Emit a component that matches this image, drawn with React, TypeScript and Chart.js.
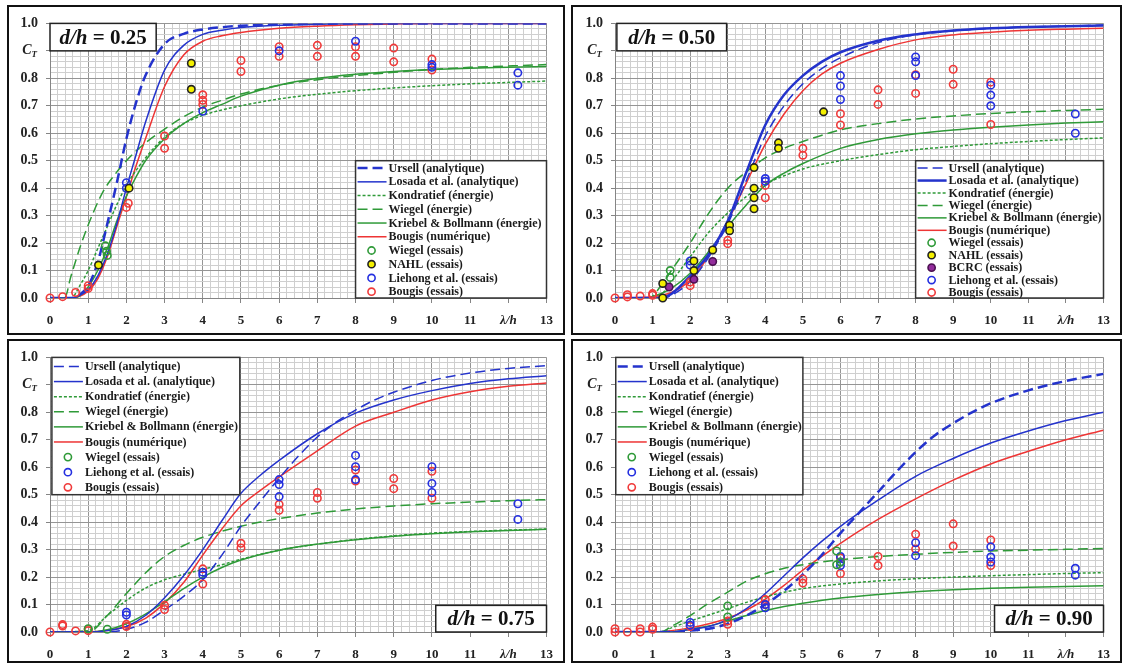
import React, { useEffect, useRef } from 'react';
import { Chart, registerables } from 'chart.js';

Chart.register(...registerables);

type Pt = [number, number];

// ---------------- Panel 1 : d/h = 0.25 ----------------
const P1_URSELL: Pt[] = [[0, 0], [0.6, 0], [0.8, 0.015], [1, 0.045], [1.25, 0.13], [1.5, 0.27], [1.75, 0.42], [2, 0.58], [2.25, 0.71], [2.5, 0.81], [3, 0.925], [3.5, 0.962], [4, 0.978], [4.5, 0.986], [5, 0.991], [6, 0.996], [7, 0.998], [8, 1], [13, 1]];
const P1_LOSADA: Pt[] = [[0, 0], [0.6, 0], [0.75, 0.008], [1, 0.03], [1.25, 0.08], [1.5, 0.16], [1.75, 0.27], [2, 0.4], [2.25, 0.52], [2.5, 0.64], [3, 0.83], [3.5, 0.92], [4, 0.96], [4.5, 0.975], [5, 0.985], [6, 0.993], [7, 0.997], [8, 1], [13, 1]];
const P1_KONDRATIEF: Pt[] = [[0, 0], [0.55, 0], [0.8, 0.05], [1, 0.1], [1.25, 0.18], [1.5, 0.26], [1.75, 0.34], [2, 0.41], [2.5, 0.51], [3, 0.585], [3.5, 0.635], [4, 0.665], [4.5, 0.685], [5, 0.7], [6, 0.725], [7, 0.742], [8, 0.755], [9, 0.765], [10, 0.773], [11, 0.78], [12, 0.785], [13, 0.79]];
const P1_WIEGEL: Pt[] = [[0, 0], [0.38, 0], [0.55, 0.08], [0.8, 0.19], [1.1, 0.3], [1.4, 0.39], [1.7, 0.45], [2, 0.5], [2.5, 0.565], [3, 0.615], [3.5, 0.66], [4, 0.695], [4.5, 0.72], [5, 0.743], [6, 0.775], [7, 0.795], [8, 0.81], [9, 0.822], [10, 0.832], [11, 0.84], [12, 0.845], [13, 0.85]];
const P1_KRIEBEL: Pt[] = [[0, 0], [0.6, 0], [0.8, 0.01], [1, 0.04], [1.25, 0.1], [1.5, 0.18], [1.75, 0.28], [2, 0.37], [2.25, 0.44], [2.5, 0.5], [3, 0.58], [3.5, 0.635], [4, 0.675], [4.5, 0.705], [5, 0.735], [6, 0.775], [7, 0.8], [8, 0.815], [9, 0.825], [10, 0.832], [11, 0.837], [12, 0.84], [13, 0.843]];
const P1_BOUGIS: Pt[] = [[0, 0], [0.6, 0], [0.75, 0.005], [1, 0.025], [1.25, 0.07], [1.5, 0.15], [1.75, 0.26], [2, 0.37], [2.25, 0.48], [2.5, 0.58], [3, 0.77], [3.5, 0.885], [4, 0.935], [4.5, 0.955], [5, 0.967], [6, 0.982], [7, 0.99], [8, 0.995], [9, 0.998], [10, 1], [13, 1]];
const P1_WIEGEL_X = [1.45, 1.48, 1.5];
const P1_WIEGEL_Y = [0.19, 0.17, 0.155];
const P1_NAHL_X = [1.27, 2.07, 3.7, 3.7];
const P1_NAHL_Y = [0.12, 0.4, 0.855, 0.76];
const P1_LIEHONG_X = [2, 2, 4, 6, 8, 10, 10, 12.25, 12.25];
const P1_LIEHONG_Y = [0.42, 0.4, 0.68, 0.9, 0.935, 0.85, 0.84, 0.82, 0.775];
const P1_ESSAIS_X = [0, 0.33, 0.67, 1, 1, 2, 2.05, 3, 3, 4, 4, 4, 5, 5, 6, 6, 7, 7, 8, 8, 9, 9, 10, 10];
const P1_ESSAIS_Y = [0, 0.005, 0.02, 0.045, 0.035, 0.33, 0.345, 0.59, 0.545, 0.74, 0.72, 0.705, 0.865, 0.825, 0.915, 0.88, 0.92, 0.88, 0.915, 0.88, 0.91, 0.86, 0.87, 0.83];

// ---------------- Panel 2 : d/h = 0.50 ----------------
const P2_URSELL: Pt[] = [[0, 0], [1.3, 0], [1.5, 0.01], [2, 0.06], [2.5, 0.15], [3, 0.27], [3.5, 0.43], [4, 0.59], [4.5, 0.7], [5, 0.78], [5.5, 0.835], [6, 0.875], [7, 0.93], [8, 0.958], [9, 0.973], [10, 0.982], [11, 0.987], [12, 0.99], [13, 0.994]];
const P2_LOSADA: Pt[] = [[0, 0], [1.2, 0], [1.5, 0.015], [2, 0.08], [2.5, 0.16], [3, 0.28], [3.5, 0.46], [4, 0.63], [4.5, 0.74], [5, 0.81], [5.5, 0.86], [6, 0.895], [7, 0.937], [8, 0.96], [9, 0.974], [10, 0.982], [11, 0.987], [12, 0.99], [13, 0.992]];
const P2_KONDRATIEF: Pt[] = [[0, 0], [1.1, 0], [1.5, 0.06], [2, 0.15], [2.5, 0.24], [3, 0.31], [3.5, 0.37], [4, 0.415], [4.5, 0.445], [5, 0.47], [6, 0.5], [7, 0.522], [8, 0.54], [9, 0.552], [10, 0.562], [11, 0.57], [12, 0.577], [13, 0.583]];
const P2_WIEGEL: Pt[] = [[0, 0], [0.9, 0], [1.25, 0.05], [1.5, 0.1], [2, 0.2], [2.5, 0.31], [3, 0.4], [3.5, 0.46], [4, 0.51], [4.5, 0.545], [5, 0.57], [6, 0.612], [7, 0.635], [8, 0.652], [9, 0.663], [10, 0.672], [11, 0.678], [12, 0.683], [13, 0.687]];
const P2_KRIEBEL: Pt[] = [[0, 0], [0.8, 0], [1, 0.005], [1.5, 0.035], [2, 0.09], [2.5, 0.17], [3, 0.26], [3.5, 0.34], [4, 0.41], [4.5, 0.455], [5, 0.49], [6, 0.545], [7, 0.577], [8, 0.598], [9, 0.612], [10, 0.622], [11, 0.63], [12, 0.637], [13, 0.642]];
const P2_BOUGIS: Pt[] = [[0, 0], [1, 0.005], [1.5, 0.02], [2, 0.065], [2.5, 0.155], [3, 0.28], [3.5, 0.42], [4, 0.56], [4.5, 0.67], [5, 0.755], [5.5, 0.815], [6, 0.855], [7, 0.905], [8, 0.94], [9, 0.958], [10, 0.968], [11, 0.975], [12, 0.979], [13, 0.982]];
const P2_WIEGEL_X = [1.47, 1.47];
const P2_WIEGEL_Y = [0.1, 0.075];
const P2_NAHL_X = [1.27, 1.27, 2.1, 2.1, 2.6, 3.05, 3.05, 3.7, 3.7, 3.7, 3.7, 4.35, 4.35, 5.55];
const P2_NAHL_Y = [0.053, 0.0, 0.135, 0.1, 0.175, 0.265, 0.245, 0.475, 0.4, 0.365, 0.325, 0.565, 0.545, 0.678];
const P2_BCRC_X = [1.44, 2.1, 2.6];
const P2_BCRC_Y = [0.04, 0.068, 0.133];
const P2_LIEHONG_X = [2, 2, 4, 4, 6, 6, 6, 8, 8, 8, 10, 10, 10, 12.25, 12.25];
const P2_LIEHONG_Y = [0.135, 0.12, 0.435, 0.425, 0.81, 0.772, 0.723, 0.878, 0.86, 0.81, 0.775, 0.739, 0.7, 0.67, 0.6];
const P2_ESSAIS_X = [0, 0.33, 0.33, 0.67, 1, 1, 2, 2, 3, 3, 4, 4, 5, 5, 6, 6, 7, 7, 8, 8, 9, 9, 10, 10];
const P2_ESSAIS_Y = [0, 0.012, 0.004, 0.007, 0.016, 0.01, 0.058, 0.045, 0.21, 0.198, 0.41, 0.365, 0.545, 0.52, 0.671, 0.63, 0.758, 0.705, 0.813, 0.745, 0.833, 0.778, 0.786, 0.632];

// ---------------- Panel 3 : d/h = 0.75 ----------------
const P3_URSELL: Pt[] = [[0, 0], [1.5, 0], [2, 0.01], [2.5, 0.035], [3, 0.08], [3.5, 0.13], [4, 0.19], [4.5, 0.28], [5, 0.385], [5.5, 0.475], [6, 0.56], [6.5, 0.64], [7, 0.71], [7.5, 0.765], [8, 0.808], [8.5, 0.845], [9, 0.873], [10, 0.916], [11, 0.943], [12, 0.96], [13, 0.97]];
const P3_LOSADA: Pt[] = [[0, 0], [1, 0], [1.5, 0.005], [2, 0.02], [2.5, 0.06], [3, 0.125], [3.5, 0.205], [4, 0.3], [4.5, 0.405], [5, 0.505], [5.5, 0.57], [6, 0.625], [7, 0.722], [8, 0.797], [9, 0.845], [10, 0.879], [11, 0.905], [12, 0.922], [13, 0.933]];
const P3_KONDRATIEF: Pt[] = [[0, 0], [1, 0.005], [1.5, 0.06], [2, 0.115], [2.5, 0.16], [3, 0.19], [3.5, 0.21], [4, 0.228], [4.5, 0.245], [5, 0.265], [6, 0.298], [7, 0.32], [8, 0.337], [9, 0.35], [10, 0.36], [11, 0.366], [12, 0.371], [13, 0.375]];
const P3_WIEGEL: Pt[] = [[0, 0], [1, 0], [1.5, 0.06], [2, 0.14], [2.5, 0.215], [3, 0.275], [3.5, 0.315], [4, 0.345], [5, 0.385], [6, 0.413], [7, 0.433], [8, 0.448], [9, 0.459], [10, 0.467], [11, 0.473], [12, 0.478], [13, 0.482]];
const P3_KRIEBEL: Pt[] = [[0, 0], [1, 0], [1.5, 0.008], [2, 0.03], [2.5, 0.065], [3, 0.11], [3.5, 0.158], [4, 0.2], [4.5, 0.235], [5, 0.262], [6, 0.298], [7, 0.32], [8, 0.336], [9, 0.349], [10, 0.358], [11, 0.365], [12, 0.37], [13, 0.374]];
const P3_BOUGIS: Pt[] = [[0, 0], [1, 0], [2, 0.02], [2.5, 0.05], [3, 0.105], [3.5, 0.18], [4, 0.28], [4.5, 0.375], [5, 0.46], [5.5, 0.515], [6, 0.565], [7, 0.66], [8, 0.75], [9, 0.8], [10, 0.845], [11, 0.875], [12, 0.895], [13, 0.907]];
const P3_WIEGEL_X = [1, 1.5];
const P3_WIEGEL_Y = [0.012, 0.01];
const P3_LIEHONG_X = [2, 2, 4, 4, 6, 6, 6, 8, 8, 8, 10, 10, 10, 12.25, 12.25];
const P3_LIEHONG_Y = [0.072, 0.062, 0.218, 0.208, 0.555, 0.537, 0.493, 0.643, 0.602, 0.555, 0.602, 0.541, 0.508, 0.467, 0.41];
const P3_ESSAIS_X = [0, 0.33, 0.33, 0.67, 1, 1, 2, 2, 3, 3, 4, 4, 5, 5, 6, 6, 7, 7, 8, 8, 9, 9, 10, 10];
const P3_ESSAIS_Y = [0, 0.027, 0.022, 0.004, 0.01, 0.005, 0.028, 0.02, 0.097, 0.082, 0.23, 0.175, 0.323, 0.306, 0.465, 0.443, 0.508, 0.487, 0.59, 0.55, 0.559, 0.522, 0.585, 0.487];

// ---------------- Panel 4 : d/h = 0.90 ----------------
const P4_URSELL: Pt[] = [[0, 0], [1.5, 0], [2, 0.005], [2.5, 0.012], [3, 0.03], [3.5, 0.06], [4, 0.1], [4.5, 0.15], [5, 0.21], [5.5, 0.28], [6, 0.36], [6.5, 0.435], [7, 0.51], [7.5, 0.585], [8, 0.655], [8.5, 0.715], [9, 0.76], [9.5, 0.8], [10, 0.833], [11, 0.88], [12, 0.914], [13, 0.94]];
const P4_LOSADA: Pt[] = [[0, 0], [1.5, 0], [2, 0.01], [2.5, 0.02], [3, 0.045], [3.5, 0.085], [4, 0.14], [4.5, 0.205], [5, 0.27], [5.5, 0.33], [6, 0.385], [7, 0.48], [8, 0.567], [9, 0.632], [10, 0.688], [11, 0.732], [12, 0.77], [13, 0.8]];
const P4_KONDRATIEF: Pt[] = [[0, 0], [1.2, 0], [1.5, 0.015], [2, 0.04], [2.5, 0.062], [3, 0.085], [3.5, 0.108], [4, 0.128], [4.5, 0.145], [5, 0.158], [6, 0.175], [7, 0.186], [8, 0.194], [9, 0.2], [10, 0.205], [11, 0.209], [12, 0.213], [13, 0.216]];
const P4_WIEGEL: Pt[] = [[0, 0], [1.2, 0], [1.5, 0.02], [2, 0.06], [2.5, 0.105], [3, 0.145], [3.5, 0.185], [4, 0.212], [4.5, 0.232], [5, 0.245], [6, 0.263], [7, 0.275], [8, 0.283], [9, 0.29], [10, 0.295], [11, 0.298], [12, 0.301], [13, 0.304]];
const P4_KRIEBEL: Pt[] = [[0, 0], [1.5, 0], [2, 0.01], [2.5, 0.022], [3, 0.04], [3.5, 0.06], [4, 0.078], [4.5, 0.093], [5, 0.105], [6, 0.124], [7, 0.137], [8, 0.147], [9, 0.154], [10, 0.159], [11, 0.163], [12, 0.166], [13, 0.168]];
const P4_BOUGIS: Pt[] = [[0, 0], [1, 0], [1.5, 0.005], [2, 0.015], [2.5, 0.03], [3, 0.05], [3.5, 0.08], [4, 0.12], [4.5, 0.17], [5, 0.225], [5.5, 0.275], [6, 0.323], [7, 0.41], [8, 0.485], [9, 0.553], [10, 0.612], [11, 0.658], [12, 0.7], [13, 0.735]];
const P4_WIEGEL_X = [3, 3, 5.9, 5.9, 6];
const P4_WIEGEL_Y = [0.095, 0.055, 0.295, 0.245, 0.255];
const P4_LIEHONG_X = [2, 2, 4, 4, 6, 6, 6, 8, 8, 10, 10, 10, 12.25, 12.25];
const P4_LIEHONG_Y = [0.035, 0.025, 0.1, 0.088, 0.275, 0.255, 0.242, 0.325, 0.278, 0.31, 0.273, 0.255, 0.232, 0.207];
const P4_ESSAIS_X = [0, 0, 0.33, 0.67, 0.67, 1, 1, 2, 3, 3, 4, 4, 5, 5, 6, 6, 7, 7, 8, 8, 9, 9, 10, 10];
const P4_ESSAIS_Y = [0.012, 0, 0, 0.012, 0, 0.018, 0.01, 0.02, 0.04, 0.028, 0.118, 0.1, 0.193, 0.178, 0.27, 0.213, 0.275, 0.242, 0.356, 0.302, 0.394, 0.313, 0.335, 0.242];

// axis / legend texts
const X_MIN = 0;
const X_MAX = 13;
const Y_MIN = 0;
const Y_MAX = 1;
const LINE_LABELS = ['Ursell (analytique)', 'Losada et al. (analytique)', 'Kondratief (énergie)', 'Wiegel (énergie)', 'Kriebel & Bollmann (énergie)', 'Bougis (numérique)'];
const PT_WIEGEL = 'Wiegel (essais)';
const PT_NAHL = 'NAHL (essais)';
const PT_BCRC = 'BCRC (essais)';
const PT_LIEHONG = 'Liehong et al. (essais)';
const PT_BOUGIS = 'Bougis (essais)';

// ---------------- styles ----------------
const FONT = "'Liberation Serif', 'Times New Roman', Times, serif";
const BLUE = '#2433cc';
const RED = '#ee3535';
const GREEN = '#2f9a38';
const YELLOW = '#f4f000';
const PURPLE = '#932c9c';
const GRID_MAJOR = '#959595';
const GRID_MINOR = '#cfcfcf';

interface PanelData {
  ratio: string;
  curves: Pt[][]; // ursell, losada, kondratief, wiegel, kriebel, bougis
  scatter: { label: string; xs: number[]; ys: number[]; kind: 'green' | 'nahl' | 'bcrc' | 'blue' | 'red' }[];
}
interface PanelLayout {
  left: number; top: number; width: number; height: number;
  plotL: number; plotT: number; plotR: number; plotB: number;
  legend: [number, number, number, number];
  legendFirst: number; legendStep: number;
  tag: [number, number, number, number];
  ursellWidth: number; losadaWidth: number;
}

const PANELS: { data: PanelData; layout: PanelLayout }[] = [
  {
    data: {
      ratio: '0.25',
      curves: [P1_URSELL, P1_LOSADA, P1_KONDRATIEF, P1_WIEGEL, P1_KRIEBEL, P1_BOUGIS],
      scatter: [
        { label: PT_WIEGEL, xs: P1_WIEGEL_X, ys: P1_WIEGEL_Y, kind: 'green' },
        { label: PT_NAHL, xs: P1_NAHL_X, ys: P1_NAHL_Y, kind: 'nahl' },
        { label: PT_LIEHONG, xs: P1_LIEHONG_X, ys: P1_LIEHONG_Y, kind: 'blue' },
        { label: PT_BOUGIS, xs: P1_ESSAIS_X, ys: P1_ESSAIS_Y, kind: 'red' },
      ],
    },
    layout: { left: 7, top: 5, width: 558, height: 330, plotL: 50, plotT: 16, plotR: 548, plotB: 298, legend: [8, 13, 0, 0.5], legendFirst: 0.473, legendStep: 0.05, tag: [0, 2.78, 0.9, 1], ursellWidth: 2.5, losadaWidth: 1.5 },
  },
  {
    data: {
      ratio: '0.50',
      curves: [P2_URSELL, P2_LOSADA, P2_KONDRATIEF, P2_WIEGEL, P2_KRIEBEL, P2_BOUGIS],
      scatter: [
        { label: PT_WIEGEL, xs: P2_WIEGEL_X, ys: P2_WIEGEL_Y, kind: 'green' },
        { label: PT_NAHL, xs: P2_NAHL_X, ys: P2_NAHL_Y, kind: 'nahl' },
        { label: PT_BCRC, xs: P2_BCRC_X, ys: P2_BCRC_Y, kind: 'bcrc' },
        { label: PT_LIEHONG, xs: P2_LIEHONG_X, ys: P2_LIEHONG_Y, kind: 'blue' },
        { label: PT_BOUGIS, xs: P2_ESSAIS_X, ys: P2_ESSAIS_Y, kind: 'red' },
      ],
    },
    layout: { left: 571, top: 5, width: 551, height: 330, plotL: 615, plotT: 16, plotR: 1113, plotB: 298, legend: [8, 13, 0, 0.5], legendFirst: 0.473, legendStep: 0.0453, tag: [0.05, 2.97, 0.9, 1], ursellWidth: 1.5, losadaWidth: 2.5 },
  },
  {
    data: {
      ratio: '0.75',
      curves: [P3_URSELL, P3_LOSADA, P3_KONDRATIEF, P3_WIEGEL, P3_KRIEBEL, P3_BOUGIS],
      scatter: [
        { label: PT_WIEGEL, xs: P3_WIEGEL_X, ys: P3_WIEGEL_Y, kind: 'green' },
        { label: PT_LIEHONG, xs: P3_LIEHONG_X, ys: P3_LIEHONG_Y, kind: 'blue' },
        { label: PT_BOUGIS, xs: P3_ESSAIS_X, ys: P3_ESSAIS_Y, kind: 'red' },
      ],
    },
    layout: { left: 7, top: 339, width: 558, height: 324, plotL: 50, plotT: 349, plotR: 548, plotB: 632, legend: [0.05, 4.97, 0.5, 1], legendFirst: 0.967, legendStep: 0.055, tag: [10.1, 13, 0, 0.097], ursellWidth: 1.5, losadaWidth: 1.5 },
  },
  {
    data: {
      ratio: '0.90',
      curves: [P4_URSELL, P4_LOSADA, P4_KONDRATIEF, P4_WIEGEL, P4_KRIEBEL, P4_BOUGIS],
      scatter: [
        { label: PT_WIEGEL, xs: P4_WIEGEL_X, ys: P4_WIEGEL_Y, kind: 'green' },
        { label: PT_LIEHONG, xs: P4_LIEHONG_X, ys: P4_LIEHONG_Y, kind: 'blue' },
        { label: PT_BOUGIS, xs: P4_ESSAIS_X, ys: P4_ESSAIS_Y, kind: 'red' },
      ],
    },
    layout: { left: 571, top: 339, width: 551, height: 324, plotL: 615, plotT: 349, plotR: 1113, plotB: 632, legend: [0.02, 5, 0.5, 1], legendFirst: 0.967, legendStep: 0.055, tag: [10.1, 13, 0, 0.097], ursellWidth: 2.5, losadaWidth: 1.5 },
  },
];

const LINE_STYLES = (L: PanelLayout) => [
  { color: BLUE, width: L.ursellWidth, dash: [10, 5] },
  { color: BLUE, width: L.losadaWidth, dash: [] as number[] },
  { color: GREEN, width: 1.5, dash: [3, 2] },
  { color: GREEN, width: 1.5, dash: [10, 5] },
  { color: GREEN, width: 1.5, dash: [] as number[] },
  { color: RED, width: 1.5, dash: [] as number[] },
];

const POINT_STYLE: Record<string, { stroke: string; fill: string }> = {
  green: { stroke: GREEN, fill: 'rgba(0,0,0,0)' },
  nahl: { stroke: '#222222', fill: YELLOW },
  bcrc: { stroke: '#4a1050', fill: PURPLE },
  blue: { stroke: '#2530e0', fill: 'rgba(0,0,0,0)' },
  red: { stroke: '#f03a3a', fill: 'rgba(0,0,0,0)' },
};

const isInt = (v: number) => Math.abs(v - Math.round(v)) < 1e-6;

function Panel({ data, layout }: { data: PanelData; layout: PanelLayout }) {
  const ref = useRef<HTMLCanvasElement | null>(null);
  const cw = layout.width - 4;
  const ch = layout.height - 4;
  useEffect(() => {
    if (!ref.current) return;
    const originX = layout.left + 2;
    const originY = layout.top + 2;
    const yWidth = layout.plotL - originX;
    const padTop = layout.plotT - originY;
    const padRight = originX + cw - layout.plotR;
    const xHeight = originY + ch - layout.plotB;
    const styles = LINE_STYLES(layout);

    const scatterSets = data.scatter.map((s) => ({
      label: s.label,
      data: s.xs.map((x, i) => ({ x, y: s.ys[i] })),
      showLine: false,
      pointRadius: 3.7,
      pointBorderWidth: 1.6,
      pointBorderColor: POINT_STYLE[s.kind].stroke,
      pointBackgroundColor: POINT_STYLE[s.kind].fill,
      borderColor: POINT_STYLE[s.kind].stroke,
      backgroundColor: POINT_STYLE[s.kind].fill,
      clip: false as const,
    }));
    const lineSets = data.curves.map((c, i) => ({
      label: LINE_LABELS[i],
      data: c.map(([x, y]) => ({ x, y })),
      showLine: true,
      pointRadius: 0,
      borderColor: styles[i].color,
      borderWidth: styles[i].width,
      borderDash: styles[i].dash,
      cubicInterpolationMode: 'monotone' as const,
      fill: false,
    }));

    const overlay = {
      id: 'overlay' + data.ratio,
      afterDatasetsDraw(chart: any) {
        const { ctx } = chart;
        const xs = chart.scales.x;
        const ys = chart.scales.y;
        ctx.save();
        // legend box
        const [lx0, lx1, ly0, ly1] = layout.legend;
        const L = xs.getPixelForValue(lx0);
        const R = xs.getPixelForValue(lx1);
        const T = ys.getPixelForValue(ly1);
        const B = ys.getPixelForValue(ly0);
        ctx.fillStyle = '#ffffff';
        ctx.fillRect(L, T, R - L, B - T);
        ctx.strokeStyle = '#333333';
        ctx.lineWidth = 1.5;
        ctx.setLineDash([]);
        ctx.strokeRect(L, T, R - L, B - T);
        const entries: any[] = [
          ...LINE_LABELS.map((lab, i) => ({ lab, line: styles[i] })),
          ...data.scatter.map((s) => ({ lab: s.label, pt: POINT_STYLE[s.kind] })),
        ];
        ctx.font = `bold 12px ${FONT}`;
        ctx.textBaseline = 'middle';
        ctx.textAlign = 'left';
        entries.forEach((e, i) => {
          const cy = ys.getPixelForValue(layout.legendFirst - i * layout.legendStep);
          if (e.line) {
            ctx.beginPath();
            ctx.setLineDash(e.line.dash);
            ctx.lineWidth = e.line.width;
            ctx.strokeStyle = e.line.color;
            ctx.moveTo(L + 2, cy);
            ctx.lineTo(L + 31, cy);
            ctx.stroke();
            ctx.setLineDash([]);
          } else {
            ctx.beginPath();
            ctx.arc(L + 16, cy, 3.6, 0, Math.PI * 2);
            ctx.fillStyle = e.pt.fill;
            ctx.fill();
            ctx.lineWidth = 1.6;
            ctx.strokeStyle = e.pt.stroke;
            ctx.stroke();
          }
          ctx.fillStyle = '#1a1a1a';
          ctx.fillText(e.lab, L + 33, cy + 0.5);
        });
        // d/h tag
        const [tx0, tx1, ty0, ty1] = layout.tag;
        const TL = xs.getPixelForValue(tx0);
        const TR = xs.getPixelForValue(tx1);
        const TT = ys.getPixelForValue(ty1);
        const TB = ys.getPixelForValue(ty0);
        ctx.fillStyle = '#ffffff';
        ctx.fillRect(TL, TT, TR - TL, TB - TT);
        ctx.strokeStyle = '#222222';
        ctx.lineWidth = 1.5;
        ctx.strokeRect(TL, TT, TR - TL, TB - TT);
        const p1 = 'd/h';
        const p2 = ' = ' + data.ratio;
        ctx.font = `italic bold 21px ${FONT}`;
        const w1 = ctx.measureText(p1).width;
        ctx.font = `bold 21px ${FONT}`;
        const w2 = ctx.measureText(p2).width;
        const sx = (TL + TR) / 2 - (w1 + w2) / 2;
        const sy = (TT + TB) / 2 + 1;
        ctx.fillStyle = '#111111';
        ctx.font = `italic bold 21px ${FONT}`;
        ctx.fillText(p1, sx, sy);
        ctx.font = `bold 21px ${FONT}`;
        ctx.fillText(p2, sx + w1, sy);
        ctx.restore();
      },
      afterDraw(chart: any) {
        const { ctx } = chart;
        const ys = chart.scales.y;
        const cy = ys.getPixelForValue(0.9);
        const right = chart.chartArea.left - 13;
        ctx.save();
        ctx.fillStyle = '#222222';
        ctx.textBaseline = 'middle';
        ctx.textAlign = 'left';
        ctx.font = `italic bold 14px ${FONT}`;
        const wc = ctx.measureText('C').width;
        ctx.font = `italic bold 9px ${FONT}`;
        const wt = ctx.measureText('T').width;
        const start = right - wc - wt;
        ctx.font = `italic bold 14px ${FONT}`;
        ctx.fillText('C', start, cy);
        ctx.font = `italic bold 9px ${FONT}`;
        ctx.fillText('T', start + wc, cy + 4);
        ctx.restore();
      },
    };

    const chart = new Chart(ref.current, {
      type: 'scatter',
      data: { datasets: [...scatterSets, ...lineSets] as any },
      options: {
        animation: false,
        responsive: false,
        devicePixelRatio: 1,
        events: [],
        layout: { autoPadding: false, padding: { left: 0, top: padTop, right: padRight, bottom: 0 } } as any,
        plugins: { legend: { display: false }, tooltip: { enabled: false } },
        scales: {
          x: {
            type: 'linear',
            position: 'bottom',
            min: X_MIN,
            max: X_MAX,
            afterFit: (s: any) => { s.height = xHeight; },
            border: { display: true, color: '#858585', width: 1 },
            grid: {
              color: (c: any) => (c.tick && isInt(c.tick.value) ? GRID_MAJOR : GRID_MINOR),
              tickColor: (c: any) => (c.tick && isInt(c.tick.value) ? '#858585' : 'rgba(0,0,0,0)'),
              tickLength: 5,
              lineWidth: 1,
            },
            ticks: {
              stepSize: 0.2,
              autoSkip: false,
              maxRotation: 0,
              minRotation: 0,
              padding: 10,
              color: '#222222',
              font: (c: any) => ({ family: FONT, size: 13, weight: 'bold', style: c.tick && Math.abs(c.tick.value - 12) < 1e-6 ? 'italic' : 'normal' }),
              callback: (v: any) => {
                const n = Number(v);
                if (!isInt(n)) return '';
                const r = Math.round(n);
                return r === 12 ? 'λ/h' : String(r);
              },
            },
          },
          y: {
            type: 'linear',
            position: 'left',
            min: Y_MIN,
            max: Y_MAX,
            afterFit: (s: any) => { s.width = yWidth; },
            border: { display: true, color: '#858585', width: 1 },
            grid: {
              color: (c: any) => (c.tick && isInt(c.tick.value * 10) ? GRID_MAJOR : GRID_MINOR),
              tickColor: (c: any) => (c.tick && isInt(c.tick.value * 10) ? '#858585' : 'rgba(0,0,0,0)'),
              tickLength: 4,
              lineWidth: 1,
            },
            ticks: {
              stepSize: 0.02,
              autoSkip: false,
              padding: 8,
              color: '#222222',
              font: { family: FONT, size: 14, weight: 'bold' },
              callback: (v: any) => {
                const n = Number(v) * 10;
                if (!isInt(n)) return '';
                const r = Math.round(n);
                if (r === 9) return '';
                return (r / 10).toFixed(1);
              },
            },
          },
        },
      } as any,
      plugins: [overlay],
    });
    return () => chart.destroy();
  }, [data, layout]);

  return (
    <div
      style={{
        position: 'absolute',
        left: layout.left,
        top: layout.top,
        width: layout.width,
        height: layout.height,
        boxSizing: 'border-box',
        border: '2px solid #111',
        background: '#fff',
      }}
    >
      <canvas ref={ref} width={cw} height={ch} style={{ display: 'block', width: cw, height: ch }} />
    </div>
  );
}

export default function App() {
  return (
    <div style={{ position: 'absolute', left: 0, top: 0, width: 1127, height: 666, background: '#ffffff', overflow: 'hidden' }}>
      {PANELS.map((p, i) => (
        <Panel key={i} data={p.data} layout={p.layout} />
      ))}
    </div>
  );
}
